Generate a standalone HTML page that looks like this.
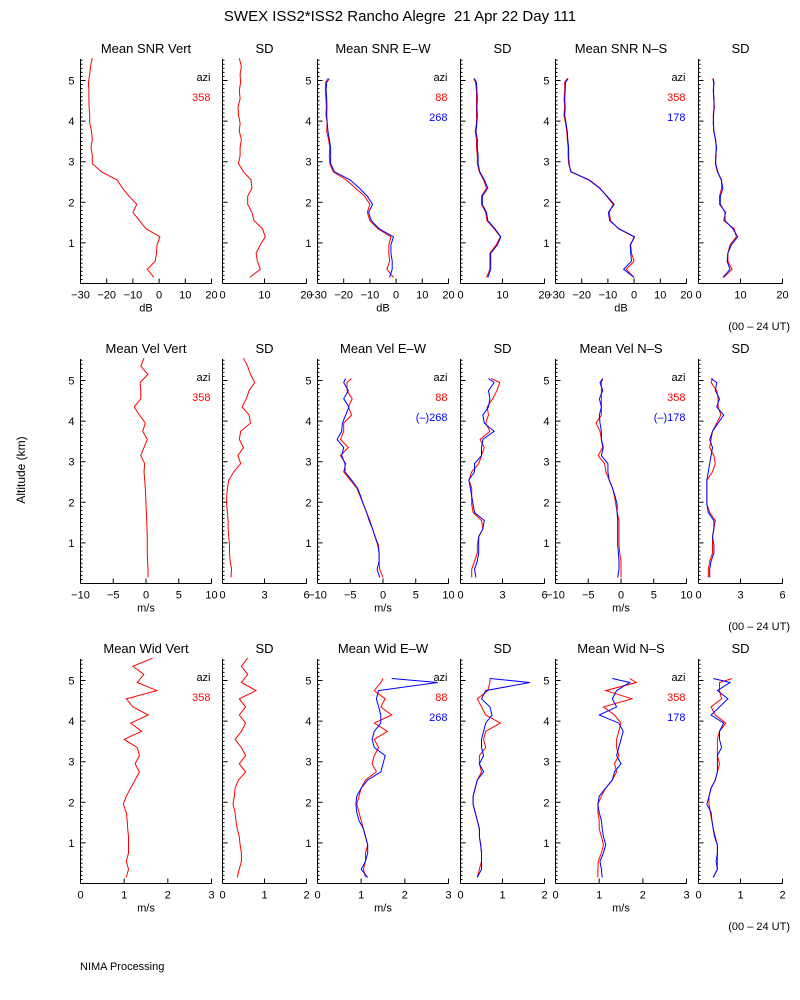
<!DOCTYPE html>
<html><head><meta charset="utf-8"><style>
body{margin:0;background:#fff;}
svg{display:block;font-family:"Liberation Sans",sans-serif;}
</style></head><body>
<svg id="c" width="800" height="1000" xmlns="http://www.w3.org/2000/svg">
<rect width="800" height="1000" fill="#fff"/>
<text x="400" y="21" font-size="15" text-anchor="middle">SWEX ISS2*ISS2 Rancho Alegre&#160; 21 Apr 22 Day 111</text>
<text x="25" y="470" font-size="12" text-anchor="middle" transform="rotate(-90 25 470)">Altitude (km)</text>
<text x="790" y="330" font-size="11" text-anchor="end">(00 – 24 UT)</text>
<text x="790" y="630" font-size="11" text-anchor="end">(00 – 24 UT)</text>
<text x="790" y="930" font-size="11" text-anchor="end">(00 – 24 UT)</text>
<text x="80" y="970" font-size="11">NIMA Processing</text>
</svg>
<script>
const altV = [0.15,0.35,0.55,0.75,0.95,1.15,1.35,1.55,1.75,1.95,2.15,2.35,2.55,2.75,2.95,3.15,3.35,3.55,3.75,3.95,4.15,4.35,4.55,4.75,4.95,5.15,5.35,5.55];
const altO = [0.15,0.35,0.55,0.75,0.95,1.15,1.35,1.55,1.75,1.95,2.15,2.35,2.55,2.75,2.95,3.15,3.35,3.55,3.75,3.95,4.15,4.35,4.55,4.75,4.95,5.05];
// Row 1: SNR
const snrVert = [-2,-4.5,-1.5,-1,-0.8,0.3,-5,-7.5,-10,-8.5,-11.5,-14,-16,-22,-25.5,-25.5,-26,-25.5,-25.8,-26.5,-26.5,-26.7,-26.8,-26.8,-27,-26.5,-26.2,-25.5];
const snrVertSD = [6.5,9,8.3,8,9,10.2,9.5,7.5,7,6,6,7,6.8,5,3.8,4.2,4.2,4.5,4,4.2,3.8,3.7,4.2,4,4.3,4.2,4.5,4];
const snrEWr = [-1,-3.5,-2.5,-2.8,-2.8,-2,-7,-10,-11,-10,-12,-15.5,-19,-24,-25.3,-25.5,-25.3,-25.8,-26.5,-26.3,-26.8,-26.6,-26.8,-27,-27,-26];
const snrEWb = [-2.5,-1.5,-1.5,-2,-2,-1,-6.5,-9.5,-10.5,-9,-11,-14,-17.5,-23.5,-25,-25,-25,-25.5,-26,-26.3,-26.5,-26.4,-26.5,-26.7,-26.5,-25.5];
const snrEWsdR = [6.2,7,7,7,8.5,9.5,8,6.3,6,5,5,6.2,5.5,4.5,4,4,3.8,3.8,3.5,3.8,3.8,3.8,3.8,3.8,3.6,3.2];
const snrEWsdB = [6.5,7.2,7.2,7.2,8.8,9.6,8.2,6.5,6.2,5.2,5.2,6.5,5.7,4.6,4.2,4.2,4,4,3.7,3.9,4,3.9,4,3.9,3.8,3.3];
const snrNSr = [0,-3,0,-1,-1.3,0,-6,-9,-9.5,-8,-10.5,-13,-17,-24,-25,-25.2,-25.2,-25.5,-25.7,-26.2,-26.8,-26.5,-26.7,-26.5,-26.5,-25.5];
const snrNSb = [0,-4,-1,-1.3,-1.5,0.2,-5.8,-9.3,-9.8,-7.6,-10.3,-13.2,-17.3,-24.2,-24.8,-25,-25,-25.3,-25.5,-26,-26.5,-26.3,-26.5,-26.3,-26.2,-25.2];
const snrNSsdR = [6,8,7,7,7.5,9,8.5,6,6.5,5,5,5.5,5.5,4.5,4,4.2,4.2,4.1,3.6,3.6,3.5,3.8,3.6,3.6,3.6,3.4];
const snrNSsdB = [5.8,7.5,6.8,7,7.8,9.3,8.2,6.3,6.3,5.2,5.2,5.8,5.4,4.6,4.1,4.1,4.3,4,3.7,3.5,3.6,3.7,3.7,3.5,3.7,3.5];
// Row 2: Velocity
const velVert = [0.3,0.3,0.25,0.2,0.2,0.2,0.15,0.1,0.05,0,-0.05,-0.1,-0.2,-0.3,-0.2,-0.8,-0.3,0.2,-0.5,-0.1,-1,-1.8,-0.8,-0.8,-0.9,0.3,-0.8,-0.3];
const velVertSD = [0.6,0.65,0.55,0.5,0.5,0.45,0.4,0.4,0.35,0.3,0.3,0.35,0.45,0.8,1.3,1.1,1.5,1.2,1.3,2,1.9,1.4,1.7,1.9,2.3,2,1.8,1.5];
const velEWr = [0,-0.5,-0.6,-0.6,-0.7,-1.2,-1.6,-2,-2.5,-3,-3.5,-4,-5,-6,-5.7,-6.5,-5.3,-6.5,-6,-6,-4.8,-5.3,-4.7,-5.5,-5.5,-4.8];
const velEWb = [-0.5,-0.9,-0.6,-0.6,-0.8,-1.2,-1.6,-2.1,-2.5,-3,-3.4,-3.9,-4.8,-5.8,-5.8,-6.3,-6,-7,-6.3,-6.2,-5.7,-5.2,-6,-5.3,-6,-5.7];
const velEWsdR = [0.8,0.8,1,1.2,1.2,1.3,1.6,1.5,0.9,0.8,0.8,0.8,0.6,0.8,1.3,1.5,1.7,1.4,2.1,1.8,2,1.9,2.3,2.6,2.8,2.2];
const velEWsdB = [1.1,1,1.2,1.3,1.3,1.3,1.6,1.7,1,0.9,0.8,0.7,0.6,1,1,1.5,1.5,1.6,2.4,1.7,1.6,2,2.1,2,2.4,2];
const velNSr = [0,0,0,-0.2,-0.3,-0.3,-0.3,-0.3,-0.6,-0.8,-1,-1.3,-1.8,-2.3,-2.5,-3.5,-2.8,-3,-3.2,-3.8,-3,-3,-3,-3,-3,-2.8];
const velNSb = [-0.5,-0.3,-0.3,-0.4,-0.5,-0.5,-0.5,-0.5,-0.6,-0.6,-0.9,-1.3,-1.8,-2,-2,-3,-2.7,-3,-3,-3.2,-3.3,-3,-3.3,-2.8,-3.2,-2.8];
const velNSsdR = [0.7,0.7,0.8,1,1,1,1.1,1.2,0.8,0.6,0.6,0.6,0.6,1,1.2,1.1,0.8,0.9,1,1.3,1.6,1.4,1.4,1.3,0.9,1];
const velNSsdB = [0.8,0.8,0.9,1.1,1.1,1,1.1,1.1,0.7,0.6,0.6,0.6,0.6,0.7,0.8,0.9,1,0.8,1,1.4,1.8,1.3,1.5,1.2,1.3,0.9];
// Row 3: Width
const widVert = [1.05,1.1,1.05,1.1,1.1,1.1,1.08,1.07,1.05,0.98,1.05,1.15,1.25,1.35,1.25,1.35,1.3,1,1.4,1.15,1.55,1.2,1.05,1.75,1.3,1.45,1.2,1.65];
const widVertSD = [0.35,0.4,0.45,0.45,0.42,0.4,0.35,0.32,0.3,0.25,0.28,0.3,0.38,0.55,0.4,0.55,0.45,0.3,0.45,0.55,0.4,0.55,0.4,0.8,0.45,0.6,0.45,0.6];
const widEWr = [1.1,1.05,1.1,1.1,1.15,1.1,1.05,1,0.95,0.9,0.95,1,1.1,1.35,1.25,1.3,1.4,1.3,1.6,1.3,1.7,1.45,1.55,1.3,1.45,1.5];
const widEWb = [1.15,1,1.1,1.15,1.15,1.1,1.05,0.95,0.9,0.88,0.9,1,1.15,1.45,1.5,1.55,1.3,1.25,1.3,1.45,1.45,1.4,1.35,1.4,2.75,1.7];
const widEWsdR = [0.4,0.45,0.5,0.5,0.48,0.45,0.45,0.4,0.35,0.3,0.3,0.35,0.4,0.5,0.45,0.45,0.6,0.55,0.6,0.95,0.6,0.5,0.4,0.65,0.7,0.7];
const widEWsdB = [0.4,0.5,0.5,0.5,0.48,0.45,0.45,0.4,0.35,0.3,0.3,0.35,0.4,0.55,0.45,0.55,0.5,0.5,0.55,0.6,0.75,0.7,0.5,0.6,1.65,0.7];
const widNSr = [0.97,0.97,0.98,1.05,1.1,1.05,1,1,0.97,0.97,1.05,1.15,1.3,1.4,1.35,1.45,1.4,1.4,1.45,1.5,1.35,1.1,1.75,1.15,1.85,1.7];
const widNSb = [1.07,1.05,1.02,1.1,1.15,1.1,1.07,1.05,1,0.97,1,1.15,1.3,1.35,1.5,1.4,1.45,1.5,1.55,1.45,1,1.4,1.3,1.4,1.7,1.3];
const widNSsdR = [0.35,0.45,0.45,0.45,0.45,0.4,0.35,0.32,0.28,0.25,0.25,0.3,0.4,0.45,0.5,0.45,0.45,0.45,0.5,0.65,0.4,0.3,0.55,0.5,0.5,0.8];
const widNSsdB = [0.35,0.45,0.42,0.45,0.45,0.38,0.35,0.32,0.3,0.2,0.25,0.3,0.4,0.45,0.45,0.45,0.55,0.5,0.5,0.6,0.3,0.5,0.7,0.45,0.75,0.35];

const snrTicks = [-30,-20,-10,0,10,20], snrSDTicks = [0,10,20];
const velTicks = [-10,-5,0,5,10], velSDTicks = [0,3,6];
const widTicks = [0,1,2,3], widSDTicks = [0,1,2];

const NS = 'http://www.w3.org/2000/svg';
const svg = document.getElementById('c');
const colL = [80.5,222.5,317.5,460.5,555.5,698.5];
const colW = [131,84,131,84,131,84];
const KM = 40.6;
function mk(tag, attrs, parent){const e=document.createElementNS(NS,tag);for(const k in attrs)e.setAttribute(k,attrs[k]);(parent||svg).appendChild(e);return e;}

const panels = [
 {r:0,c:0,t:'Mean SNR Vert',tk:snrTicks,u:'dB',s:[[altV,snrVert,'red']],leg:['358'],yl:true},
 {r:0,c:1,t:'SD',tk:snrSDTicks,s:[[altV,snrVertSD,'red']]},
 {r:0,c:2,t:'Mean SNR E–W',tk:snrTicks,u:'dB',s:[[altO,snrEWr,'red'],[altO,snrEWb,'blue']],leg:['88','268'],yl:true},
 {r:0,c:3,t:'SD',tk:snrSDTicks,s:[[altO,snrEWsdR,'red'],[altO,snrEWsdB,'blue']]},
 {r:0,c:4,t:'Mean SNR N–S',tk:snrTicks,u:'dB',s:[[altO,snrNSr,'red'],[altO,snrNSb,'blue']],leg:['358','178'],yl:true},
 {r:0,c:5,t:'SD',tk:snrSDTicks,s:[[altO,snrNSsdR,'red'],[altO,snrNSsdB,'blue']]},
 {r:1,c:0,t:'Mean Vel Vert',tk:velTicks,u:'m/s',s:[[altV,velVert,'red']],leg:['358'],yl:true},
 {r:1,c:1,t:'SD',tk:velSDTicks,s:[[altV,velVertSD,'red']]},
 {r:1,c:2,t:'Mean Vel E–W',tk:velTicks,u:'m/s',s:[[altO,velEWr,'red'],[altO,velEWb,'blue']],leg:['88','(–)268'],yl:true},
 {r:1,c:3,t:'SD',tk:velSDTicks,s:[[altO,velEWsdR,'red'],[altO,velEWsdB,'blue']]},
 {r:1,c:4,t:'Mean Vel N–S',tk:velTicks,u:'m/s',s:[[altO,velNSr,'red'],[altO,velNSb,'blue']],leg:['358','(–)178'],yl:true},
 {r:1,c:5,t:'SD',tk:velSDTicks,s:[[altO,velNSsdR,'red'],[altO,velNSsdB,'blue']]},
 {r:2,c:0,t:'Mean Wid Vert',tk:widTicks,u:'m/s',s:[[altV,widVert,'red']],leg:['358'],yl:true},
 {r:2,c:1,t:'SD',tk:widSDTicks,s:[[altV,widVertSD,'red']]},
 {r:2,c:2,t:'Mean Wid E–W',tk:widTicks,u:'m/s',s:[[altO,widEWr,'red'],[altO,widEWb,'blue']],leg:['88','268'],yl:true},
 {r:2,c:3,t:'SD',tk:widSDTicks,s:[[altO,widEWsdR,'red'],[altO,widEWsdB,'blue']]},
 {r:2,c:4,t:'Mean Wid N–S',tk:widTicks,u:'m/s',s:[[altO,widNSr,'red'],[altO,widNSb,'blue']],leg:['358','178'],yl:true},
 {r:2,c:5,t:'SD',tk:widSDTicks,s:[[altO,widNSsdR,'red'],[altO,widNSsdB,'blue']]}
];

panels.forEach((p,i)=>{
  const L=colL[p.c], W=colW[p.c], B=283.5+300*p.r, T=59+300*p.r;
  const xmin=p.tk[0], xmax=p.tk[p.tk.length-1];
  const xs=v=>L+(v-xmin)/(xmax-xmin)*W;
  const ys=a=>B-a*KM;
  const g=mk('g',{});
  
  
  const tt=mk('text',{x:L+W/2,y:T-6,'font-size':13,'text-anchor':'middle'},g);
  tt.textContent=p.t;
  
  
  const ya=mk('line',{x1:L,y1:T,x2:L,y2:B,stroke:'#000','stroke-width':1},g);
  
  
  const xa=mk('line',{x1:L,y1:B,x2:L+W,y2:B,stroke:'#000','stroke-width':1},g);
  
  
  let d='';
  for(let k=1;k<=55;k++){const y=ys(k/10);const len=(k%10===0)?5:2;d+='M'+L+' '+y+'h'+len;}
  p.tk.forEach(v=>{d+='M'+xs(v)+' '+B+'v-5';});
  const tp=mk('path',{d:d,stroke:'#000','stroke-width':1,fill:'none'},g);
  
  
  if(p.yl){[1,2,3,4,5].forEach(k=>{const t=mk('text',{x:L-6,y:ys(k)+4,'font-size':11,'text-anchor':'end'},g);t.textContent=k;
    
    });}
  p.tk.forEach(v=>{const t=mk('text',{x:xs(v),y:B+15,'font-size':11,'text-anchor':'middle'},g);t.textContent=String(v).replace('-','−');
    
    });
  if(p.u){const t=mk('text',{x:L+W/2,y:B+28,'font-size':11,'text-anchor':'middle'},g);t.textContent=p.u;
    
    }
  if(p.leg){const a=mk('text',{x:L+W-1,y:T+22,'font-size':11,'text-anchor':'end'},g);a.textContent='azi';
    
    
    p.leg.forEach((s,j)=>{const t=mk('text',{x:L+W-1,y:T+42+20*j,'font-size':11,'text-anchor':'end',fill:j?'#00f':'#f00'},g);t.textContent=s;
      
      });}
  p.s.forEach(([al,vals,col])=>{
    const pts=vals.map((v,k)=>xs(v).toFixed(1)+','+ys(al[k]).toFixed(1)).join(' ');
    const pl=mk('polyline',{points:pts,fill:'none',stroke:col==='red'?'#f00':'#00f','stroke-width':1},g);
    
    
  });
});
</script>
</body></html>
